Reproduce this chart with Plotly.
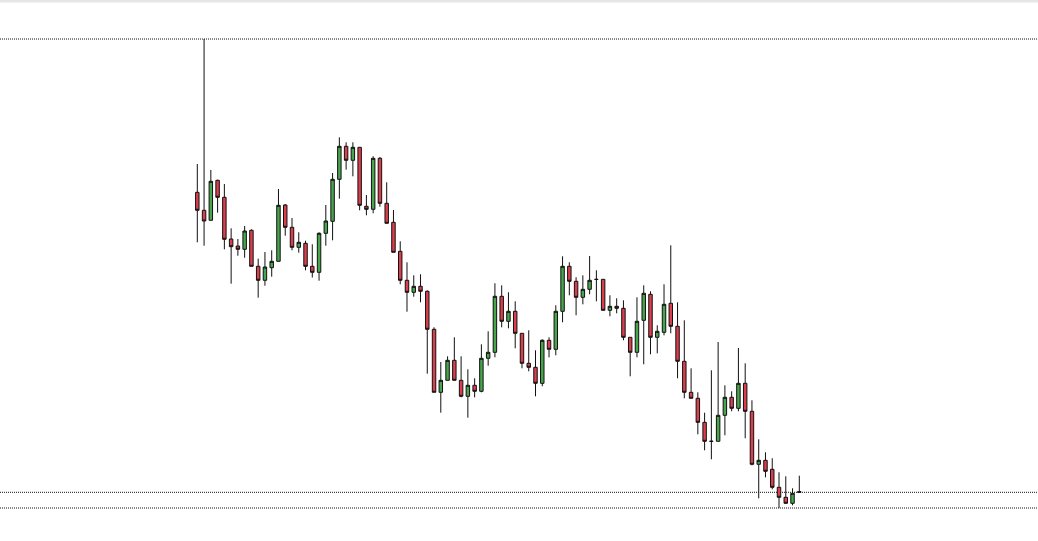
import plotly.graph_objects as go

# OHLC values (arbitrary price units)
open_ = [407.7, 389.7, 379.7, 419.7, 402.7, 361.0, 354.0, 350.7, 369.7, 333.7,
         319.7, 332.3, 338.7, 395.0, 372.7, 352.7, 356.7, 333.7, 327.7, 366.7,
         378.7, 420.7, 453.7, 439.7, 452.7, 393.7, 390.7, 441.7, 396.7, 377.7,
         348.7, 319.7, 307.7, 313.7, 308.7, 270.7, 207.7, 219.7, 239.7, 219.7,
         203.7, 214.7, 208.7, 241.7, 247.7, 303.7, 278.7, 288.7, 266.7, 236.7,
         232.7, 216.7, 259.7, 250.7, 288.7, 333.7, 318.7, 302.7, 310.7, 320.6,
         320.7, 289.7, 293.7, 291.7, 262.7, 247.7, 279.7, 305.7, 262.7, 267.7,
         296.7, 273.7, 238.7, 207.7, 201.7, 177.7, 158.7, 158.7, 184.7, 202.7,
         191.7, 216.7, 188.7, 135.7, 139.7, 130.7, 112.7, 102.7, 96.7, 108.4]
high = [436.0, 561.0, 430.0, 420.3, 416.0, 371.7, 361.0, 374.0, 370.7, 341.3,
        348.0, 349.7, 411.0, 396.0, 382.0, 367.7, 359.3, 355.7, 367.7, 395.0,
        427.0, 462.7, 457.7, 457.7, 452.7, 405.0, 443.7, 443.0, 417.7, 390.0,
        358.7, 337.7, 324.7, 325.7, 309.7, 272.7, 238.0, 243.7, 262.7, 243.7,
        230.7, 221.7, 255.7, 268.7, 316.7, 314.7, 307.7, 298.7, 266.7, 269.7,
        249.7, 260.7, 262.7, 294.7, 343.7, 337.7, 322.7, 324.7, 344.0, 329.7,
        320.7, 304.7, 301.7, 299.7, 262.7, 302.7, 314.7, 308.7, 274.7, 315.7,
        354.7, 297.7, 279.7, 231.7, 207.7, 187.3, 229.7, 258.0, 214.7, 208.7,
        252.0, 236.7, 199.7, 160.7, 147.7, 141.7, 127.7, 123.7, 111.7, 124.3]
low = [357.7, 354.3, 379.7, 387.3, 350.7, 316.3, 344.3, 342.3, 333.7, 302.3,
       314.3, 323.3, 338.7, 364.3, 349.7, 347.3, 329.7, 322.5, 319.3, 354.3,
       359.7, 401.3, 430.3, 423.7, 389.7, 384.7, 386.7, 393.3, 376.7, 347.7,
       315.7, 288.3, 303.3, 297.7, 226.3, 207.7, 187.3, 219.7, 219.7, 202.7,
       182.3, 202.7, 207.7, 234.3, 242.7, 272.7, 271.7, 251.7, 231.7, 228.7,
       203.7, 213.7, 242.7, 244.7, 277.7, 304.7, 284.7, 295.7, 305.7, 298.7,
       289.7, 283.7, 286.7, 259.7, 223.7, 242.7, 235.7, 245.7, 246.7, 264.7,
       266.7, 221.7, 201.7, 201.7, 165.7, 149.7, 140.7, 158.7, 164.7, 188.7,
       188.7, 161.7, 134.7, 101.7, 122.7, 110.7, 92.0, 96.3, 94.7, 107.7]
close = [389.7, 379.0, 418.7, 402.7, 360.7, 353.3, 350.7, 369.0, 333.7, 319.7,
         333.0, 338.7, 394.7, 372.7, 352.7, 357.7, 333.7, 327.7, 366.7, 379.0,
         420.7, 453.7, 439.7, 452.7, 394.7, 390.7, 441.7, 396.7, 376.7, 347.7,
         319.7, 307.7, 313.7, 308.7, 270.7, 207.7, 219.7, 239.7, 219.7, 203.7,
         214.7, 208.7, 241.7, 247.7, 303.7, 278.7, 288.7, 266.7, 236.7, 232.7,
         216.7, 259.7, 250.7, 288.7, 333.7, 318.7, 302.7, 310.7, 319.7, 320.6,
         289.7, 293.7, 291.7, 262.7, 247.7, 278.7, 306.7, 262.7, 268.7, 295.7,
         273.7, 238.7, 207.7, 201.7, 177.7, 158.7, 158.7, 184.7, 202.7, 191.7,
         216.7, 188.7, 135.7, 139.7, 128.7, 112.7, 102.7, 96.7, 106.7, 107.7]

x = list(range(len(close)))

fig = go.Figure(go.Candlestick(
    x=x, open=open_, high=high, low=low, close=close,
    increasing=dict(line=dict(color="#111111", width=1), fillcolor="#47a64c"),
    decreasing=dict(line=dict(color="#111111", width=1), fillcolor="#db3e4c"),
    whiskerwidth=0,
    hoverinfo="skip",
))

line_style = dict(color="#111111", width=1, dash="1px,1px")
for level in (max(high), close[-1], min(low)):
    fig.add_shape(type="line", xref="paper", x0=0, x1=1, yref="y", y0=level, y1=level,
                  line=line_style, layer="below")

fig.add_shape(type="rect", xref="paper", yref="paper", x0=0, x1=1,
              y0=1 - 2.5 / 541, y1=1, fillcolor="#e6e6e6", line=dict(width=0))

fig.update_layout(
    width=1038, height=541,
    margin=dict(l=0, r=0, t=0, b=0),
    paper_bgcolor="white", plot_bgcolor="white",
    showlegend=False,
    boxgap=0.27,
    xaxis=dict(visible=False, range=[-29.17, 124.29], rangeslider=dict(visible=False)),
    yaxis=dict(visible=False, range=[59, 600]),
)

fig.write_html("out.html", config={"displayModeBar": False},
               post_script="document.body.style.margin='0';document.body.style.overflow='hidden';")
